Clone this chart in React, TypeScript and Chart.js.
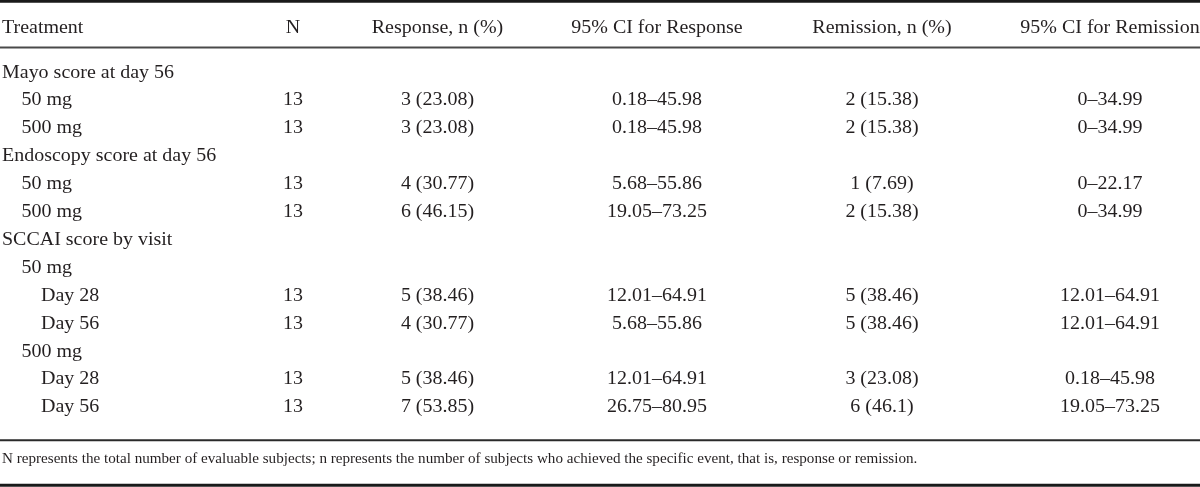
import React, { useEffect, useRef } from "react";
import { Chart, registerables } from "chart.js";

Chart.register(...registerables);

// ---------- DATA ----------
const headerLabels = [
  "Treatment",
  "N",
  "Response, n (%)",
  "95% CI for Response",
  "Remission, n (%)",
  "95% CI for Remission",
];

const treatmentLabels = [
  "Mayo score at day 56",
  "50 mg",
  "500 mg",
  "Endoscopy score at day 56",
  "50 mg",
  "500 mg",
  "SCCAI score by visit",
  "50 mg",
  "Day 28",
  "Day 56",
  "500 mg",
  "Day 28",
  "Day 56",
];
const indentLevels = [0, 1, 1, 0, 1, 1, 0, 1, 2, 2, 1, 2, 2];

const nValues = [null, 13, 13, null, 13, 13, null, null, 13, 13, null, 13, 13];
const responseCount = [null, 3, 3, null, 4, 6, null, null, 5, 4, null, 5, 7];
const responsePct = [null, 23.08, 23.08, null, 30.77, 46.15, null, null, 38.46, 30.77, null, 38.46, 53.85];
const responseCiLow = [null, 0.18, 0.18, null, 5.68, 19.05, null, null, 12.01, 5.68, null, 12.01, 26.75];
const responseCiHigh = [null, 45.98, 45.98, null, 55.86, 73.25, null, null, 64.91, 55.86, null, 64.91, 80.95];
const remissionCount = [null, 2, 2, null, 1, 2, null, null, 5, 5, null, 3, 6];
const remissionPct = [null, 15.38, 15.38, null, 7.69, 15.38, null, null, 38.46, 38.46, null, 23.08, 46.1];
const remissionCiLow = [null, 0, 0, null, 0, 0, null, null, 12.01, 12.01, null, 0.18, 19.05];
const remissionCiHigh = [null, 34.99, 34.99, null, 22.17, 34.99, null, null, 64.91, 64.91, null, 45.98, 73.25];

const footnote =
  "N represents the total number of evaluable subjects; n represents the number of subjects who achieved the specific event, that is, response or remission.";

// ---------- LAYOUT / STYLE ----------
const W = 1200;
const H = 487;
const COL_X = [2, 293, 437.5, 657, 882, 1110];
const COL_ALIGN: CanvasTextAlign[] = ["left", "center", "center", "center", "center", "center"];
const INDENT = 19.5;
const ROW_PX = 27.9;
const FIRST_BASELINE = 77.5;
const yv = (px: number) => (px - FIRST_BASELINE) / ROW_PX;
const Y_MIN = yv(0);
const Y_MAX = yv(H);
const HEADER_Y = yv(32.5);
const FOOT_Y = yv(463);
const LINES = [
  { y: yv(1.4), w: 2.8, c: "#1a1a1a" },
  { y: yv(47.5), w: 2, c: "#4a4a4a" },
  { y: yv(440.3), w: 2, c: "#2a2a2a" },
  { y: yv(485.3), w: 3, c: "#1a1a1a" },
];
const FONT = '18.5px "Liberation Serif", "Times New Roman", serif';
const FOOT_FONT = '14px "Liberation Serif", "Times New Roman", serif';
const SX = 1.08;
const TEXT_COLOR = "#231f20";

const fmt = (v: number) => String(v);

const cellText = (col: number, i: number): string | null => {
  switch (col) {
    case 0:
      return treatmentLabels[i];
    case 1:
      return nValues[i] == null ? null : fmt(nValues[i] as number);
    case 2:
      return responseCount[i] == null ? null : `${responseCount[i]} (${fmt(responsePct[i] as number)})`;
    case 3:
      return responseCiLow[i] == null ? null : `${fmt(responseCiLow[i] as number)}–${fmt(responseCiHigh[i] as number)}`;
    case 4:
      return remissionCount[i] == null ? null : `${remissionCount[i]} (${fmt(remissionPct[i] as number)})`;
    case 5:
      return remissionCiLow[i] == null ? null : `${fmt(remissionCiLow[i] as number)}–${fmt(remissionCiHigh[i] as number)}`;
  }
  return null;
};

const drawText = (ctx: CanvasRenderingContext2D, text: string, x: number, y: number, align: CanvasTextAlign, font: string) => {
  ctx.save();
  ctx.font = font;
  ctx.fillStyle = TEXT_COLOR;
  ctx.textAlign = align;
  ctx.textBaseline = "alphabetic";
  ctx.translate(x, y);
  ctx.scale(SX, 1);
  ctx.fillText(text, 0, 0);
  ctx.restore();
};

const tablePlugin = {
  id: "tablePlugin",
  afterDatasetsDraw(chart: any) {
    const ctx: CanvasRenderingContext2D = chart.ctx;
    const xs = chart.scales.x;
    const ys = chart.scales.y;
    // rules
    LINES.forEach((l) => {
      const py = ys.getPixelForValue(l.y);
      ctx.save();
      ctx.strokeStyle = l.c;
      ctx.lineWidth = l.w;
      ctx.beginPath();
      ctx.moveTo(xs.left, py);
      ctx.lineTo(xs.right, py);
      ctx.stroke();
      ctx.restore();
    });
    // header
    headerLabels.forEach((h, c) => {
      drawText(ctx, h, xs.getPixelForValue(COL_X[c]), ys.getPixelForValue(HEADER_Y), COL_ALIGN[c], FONT);
    });
    // body cells
    chart.data.datasets.forEach((ds: any, c: number) => {
      const meta = chart.getDatasetMeta(c);
      meta.data.forEach((el: any, k: number) => {
        const i = ds.data[k].row;
        const t = cellText(c, i);
        if (!t) return;
        const dx = c === 0 ? indentLevels[i] * INDENT : 0;
        drawText(ctx, t, el.x + dx, el.y, COL_ALIGN[c], FONT);
      });
    });
    // footnote
    drawText(ctx, footnote, xs.getPixelForValue(COL_X[0]), ys.getPixelForValue(FOOT_Y), "left", FOOT_FONT);
  },
};

export default function App() {
  const ref = useRef<HTMLCanvasElement | null>(null);
  useEffect(() => {
    if (!ref.current) return;
    const datasets = COL_X.map((cx, c) => ({
      label: headerLabels[c],
      data: treatmentLabels.map((_, i) => ({ x: cx, y: i, row: i })),
      pointRadius: 0,
      pointHoverRadius: 0,
      pointBorderWidth: 0,
      showLine: false,
    }));
    const chart = new Chart(ref.current, {
      type: "scatter",
      data: { datasets },
      options: {
        animation: false,
        responsive: false,
        maintainAspectRatio: false,
        layout: { padding: 0 },
        plugins: { legend: { display: false }, tooltip: { enabled: false } },
        events: [],
        scales: {
          x: { type: "linear", min: 0, max: W, display: false },
          y: { type: "linear", min: Y_MIN, max: Y_MAX, reverse: true, display: false },
        },
      },
      plugins: [tablePlugin],
    });
    return () => chart.destroy();
  }, []);
  return (
    <div style={{ position: "absolute", left: 0, top: 0, width: W, height: H, background: "#fff" }}>
      <canvas ref={ref} width={W} height={H} style={{ display: "block" }} />
    </div>
  );
}
